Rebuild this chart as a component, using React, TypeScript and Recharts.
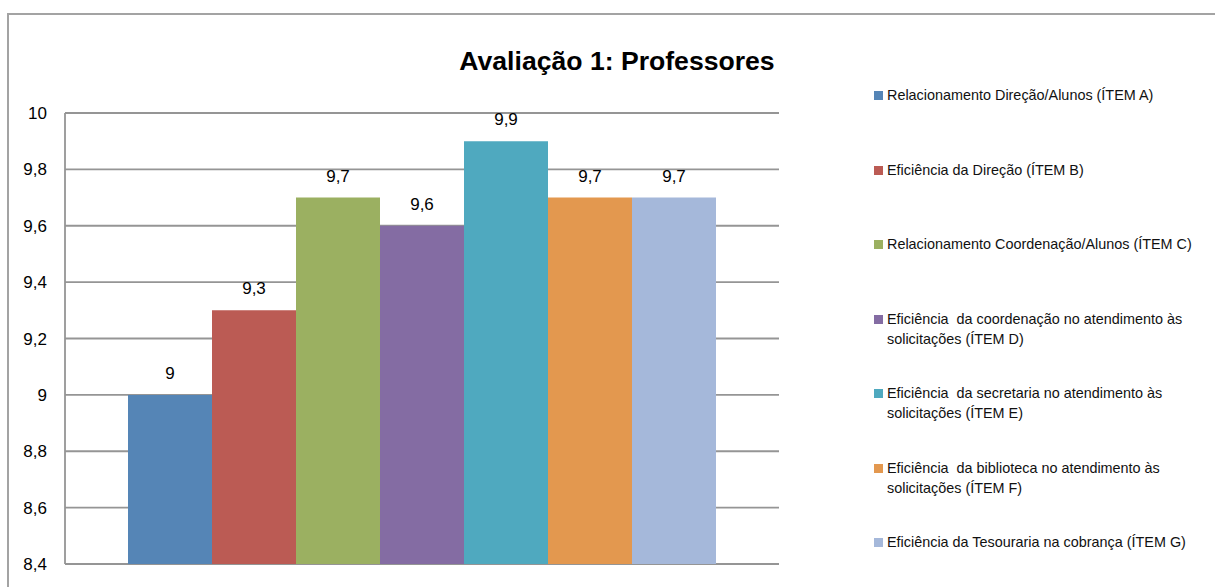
import React from 'react';
import { BarChart, Bar, XAxis, YAxis, CartesianGrid, Legend, LabelList } from 'recharts';

const categories = ['Professores'];
const seriesKeys = ['a', 'b', 'c', 'd', 'e', 'f', 'g'];
const seriesNames = [
  'Relacionamento Direção/Alunos (ÍTEM A)',
  'Eficiência da Direção (ÍTEM B)',
  'Relacionamento Coordenação/Alunos (ÍTEM C)',
  'Eficiência  da coordenação no atendimento às\nsolicitações (ÍTEM D)',
  'Eficiência  da secretaria no atendimento às\nsolicitações (ÍTEM E)',
  'Eficiência  da biblioteca no atendimento às\nsolicitações (ÍTEM F)',
  'Eficiência da Tesouraria na cobrança (ÍTEM G)',
];
const seriesValues = [9, 9.3, 9.7, 9.6, 9.9, 9.7, 9.7];
const seriesColors = ['#5585b6', '#bb5b54', '#9bb061', '#846ca3', '#4fa9bf', '#e3984f', '#a5b8da'];
const yTicks = [8.4, 8.6, 8.8, 9, 9.2, 9.4, 9.6, 9.8, 10];
const title = 'Avaliação 1: Professores';

const data = categories.map((cat) => {
  const row: Record<string, any> = { name: cat };
  seriesKeys.forEach((k, i) => {
    row[k] = seriesValues[i];
  });
  return row;
});

const fmt = (v: any) => String(v).replace('.', ',');
const FONT = '"Liberation Sans", Arial, sans-serif';

const LegendContent = () => (
  <div style={{ fontFamily: FONT, fontSize: 14.4, color: '#111' }}>
    {seriesNames.map((n, i) => (
      <div key={i} style={{ height: 74.5, display: 'flex', alignItems: 'flex-start' }}>
        <div
          style={{
            width: 9,
            height: 9,
            background: seriesColors[i],
            marginTop: 5,
            marginRight: 4,
            flex: '0 0 auto',
          }}
        />
        <div style={{ whiteSpace: 'pre', lineHeight: '20px', marginTop: -1 }}>{n}</div>
      </div>
    ))}
  </div>
);

export default function App() {
  return (
    <div
      style={{
        position: 'absolute',
        left: 0,
        top: 0,
        width: 1215,
        height: 587,
        overflow: 'hidden',
        background: '#fff',
      }}
    >
      <div
        style={{
          position: 'absolute',
          left: 7,
          top: 13,
          width: 1400,
          height: 800,
          borderLeft: '2px solid #a3a3a3',
          borderTop: '2px solid #a3a3a3',
        }}
      />
      <div
        style={{
          position: 'absolute',
          left: 367,
          top: 45,
          width: 500,
          textAlign: 'center',
          fontFamily: FONT,
          fontWeight: 'bold',
          fontSize: 26.6,
          lineHeight: '32px',
          color: '#000',
        }}
      >
        {title}
      </div>
      <div style={{ position: 'absolute', left: 0, top: 0 }}>
        <BarChart
          width={1215}
          height={587}
          data={data}
          margin={{ top: 113, right: 96, bottom: 23, left: 0 }}
          barCategoryGap={63}
          barGap={0}
        >
          <CartesianGrid vertical={false} stroke="#959595" strokeWidth={1.8} />
          <XAxis dataKey="name" hide />
          <YAxis
            width={65}
            domain={[8.4, 10]}
            ticks={yTicks}
            tickFormatter={fmt}
            tickLine={false}
            tickSize={0}
            tickMargin={18}
            axisLine={{ stroke: '#959595', strokeWidth: 1.8 }}
            tick={{ fill: '#000', fontSize: 17, fontFamily: FONT }}
            allowDataOverflow
          />
          <Legend
            layout="vertical"
            align="right"
            verticalAlign="top"
            content={LegendContent}
            wrapperStyle={{ left: 874, top: 86, width: 340 }}
          />
          {seriesKeys.map((k, i) => (
            <Bar key={k} dataKey={k} name={seriesNames[i]} fill={seriesColors[i]} isAnimationActive={false}>
              <LabelList
                dataKey={k}
                position="top"
                offset={16}
                formatter={fmt}
                style={{ fill: '#000', fontSize: 17, fontFamily: FONT }}
              />
            </Bar>
          ))}
        </BarChart>
      </div>
    </div>
  );
}
